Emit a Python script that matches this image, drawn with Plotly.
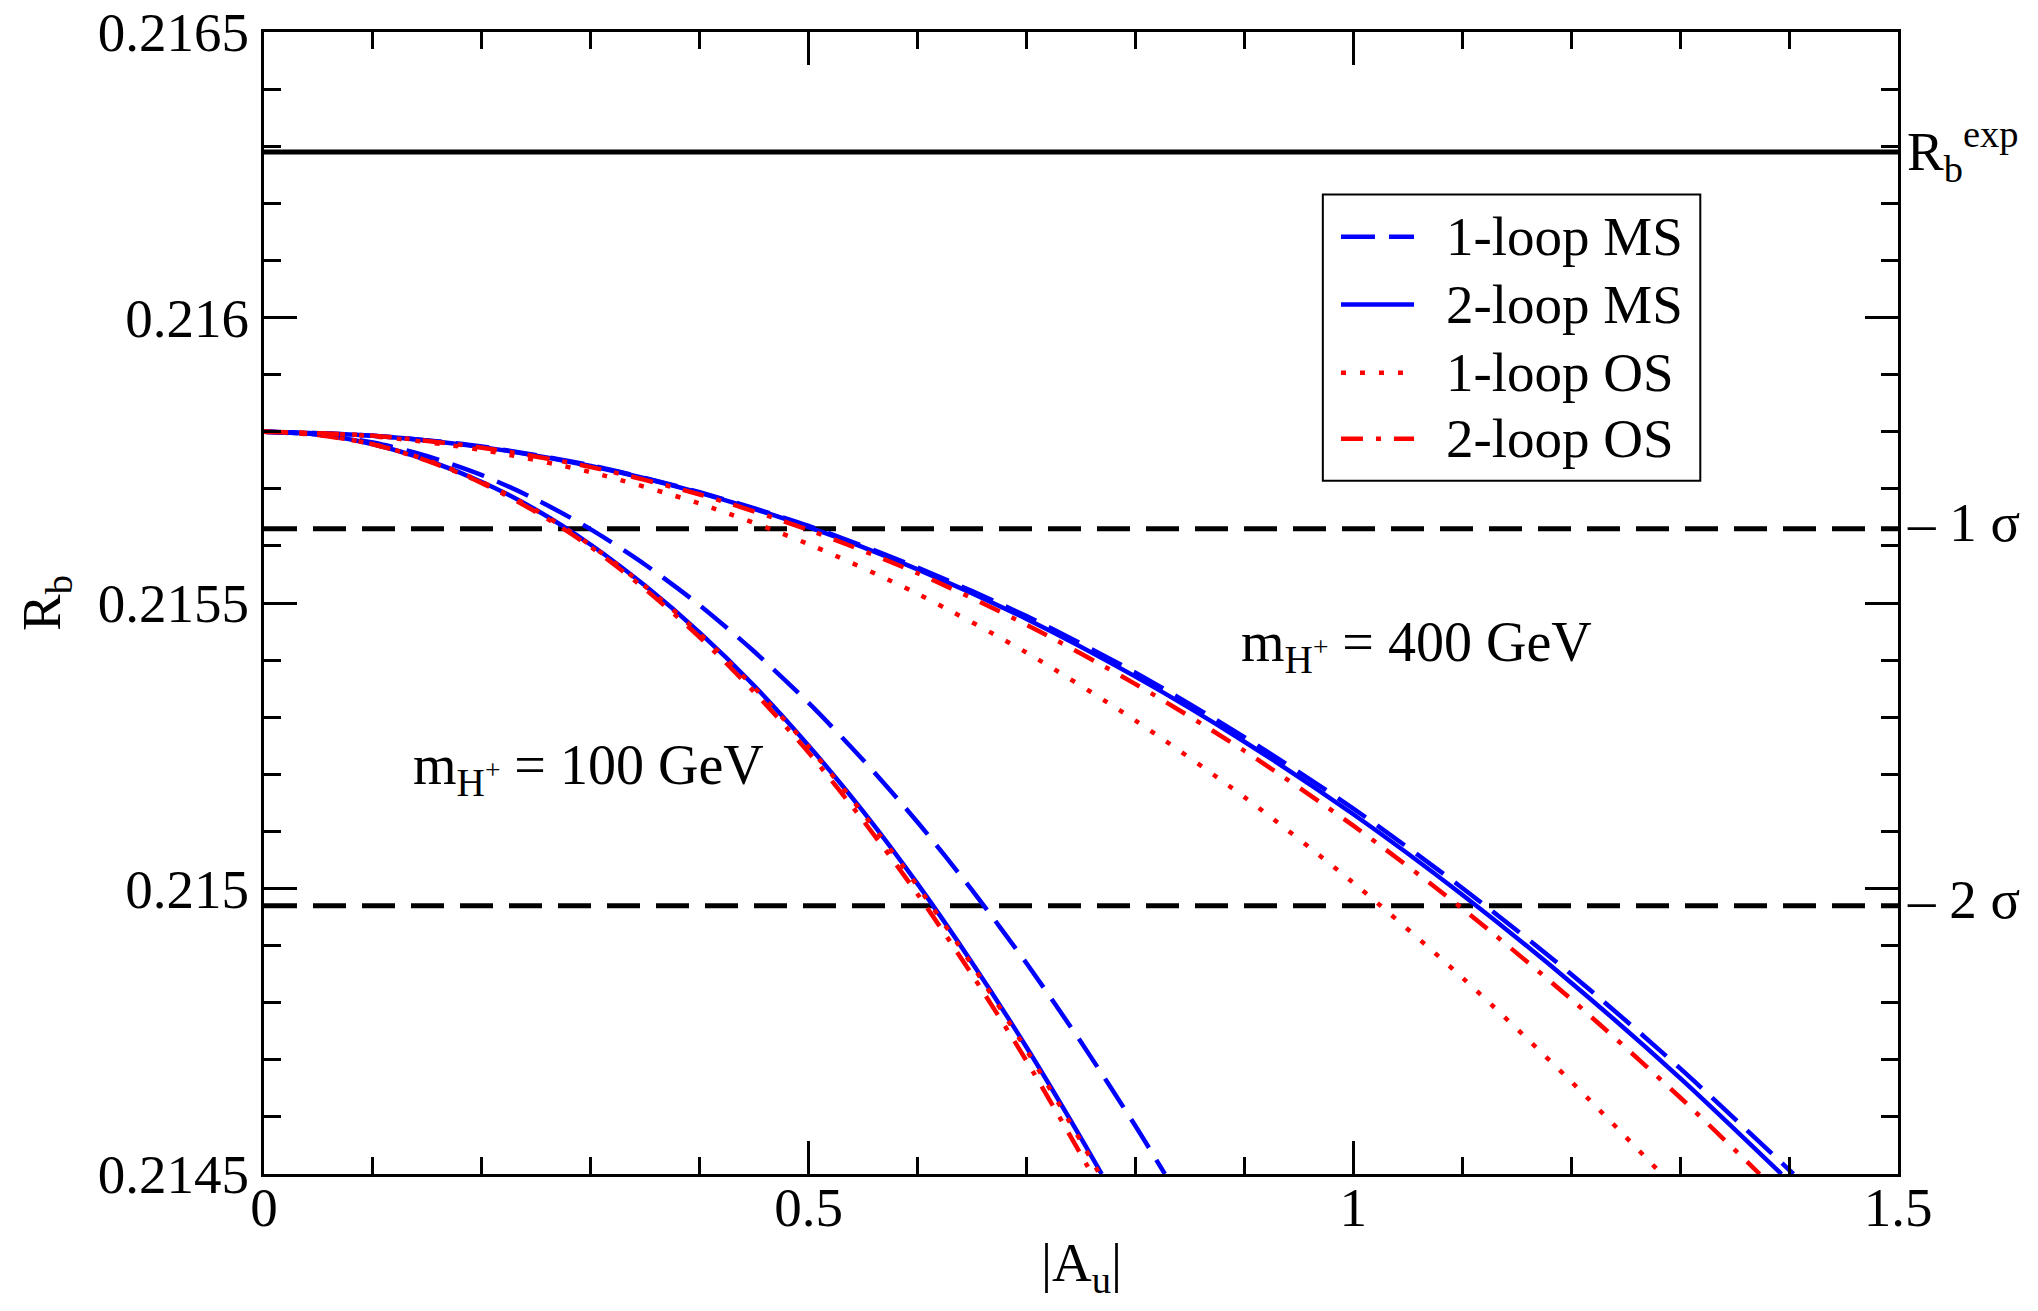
import plotly.graph_objects as go

FONT = "Liberation Serif, Times New Roman, Times, serif"

# ---------------- data ----------------
# m_H+ = 100 GeV
x_100_ms1 = [0, 0.05, 0.1, 0.15, 0.2, 0.25, 0.3, 0.35, 0.4, 0.45, 0.5, 0.55, 0.6, 0.65, 0.7, 0.75, 0.8, 0.827]
y_100_ms1 = [0.2158, 0.215795, 0.215781, 0.215757, 0.215724, 0.215681, 0.215629, 0.215567, 0.215496, 0.215415,
             0.215325, 0.215225, 0.215116, 0.214997, 0.214869, 0.214731, 0.214584, 0.2145]
x_100_ms2 = [0, 0.05, 0.1, 0.15, 0.2, 0.25, 0.3, 0.35, 0.4, 0.45, 0.5, 0.55, 0.6, 0.65, 0.7, 0.75, 0.769]
y_100_ms2 = [0.2158, 0.215795, 0.215778, 0.21575, 0.215712, 0.215663, 0.215602, 0.21553, 0.215448, 0.215355,
             0.21525, 0.215135, 0.215008, 0.21487, 0.214722, 0.214563, 0.2145]
x_100_os1 = [0, 0.05, 0.1, 0.15, 0.2, 0.25, 0.3, 0.35, 0.4, 0.45, 0.5, 0.55, 0.6, 0.65, 0.7, 0.75, 0.767]
y_100_os1 = [0.2158, 0.215794, 0.215778, 0.21575, 0.215712, 0.215662, 0.215601, 0.215529, 0.215446, 0.215352,
             0.215248, 0.215131, 0.215004, 0.214866, 0.214717, 0.214557, 0.2145]
x_100_os2 = [0, 0.05, 0.1, 0.15, 0.2, 0.25, 0.3, 0.35, 0.4, 0.45, 0.5, 0.55, 0.6, 0.65, 0.7, 0.75, 0.76]
y_100_os2 = [0.2158, 0.215794, 0.215778, 0.215749, 0.21571, 0.215659, 0.215598, 0.215524, 0.21544, 0.215344,
             0.215238, 0.215119, 0.21499, 0.214849, 0.214698, 0.214534, 0.2145]

# m_H+ = 400 GeV
x_400_ms1 = [0, 0.1, 0.2, 0.3, 0.4, 0.5, 0.6, 0.7, 0.8, 0.9, 1.0, 1.1, 1.2, 1.3, 1.404]
y_400_ms1 = [0.2158, 0.215793, 0.215774, 0.215741, 0.215694, 0.215635, 0.215562, 0.215477, 0.215378, 0.215265,
             0.21514, 0.215001, 0.21485, 0.214685, 0.2145]
x_400_ms2 = [0, 0.1, 0.2, 0.3, 0.4, 0.5, 0.6, 0.7, 0.8, 0.9, 1.0, 1.1, 1.2, 1.3, 1.393]
y_400_ms2 = [0.2158, 0.215793, 0.215773, 0.21574, 0.215693, 0.215633, 0.215559, 0.215472, 0.215371, 0.215257,
             0.21513, 0.214989, 0.214835, 0.214668, 0.2145]
x_400_os1 = [0, 0.1, 0.2, 0.3, 0.4, 0.5, 0.6, 0.7, 0.8, 0.9, 1.0, 1.1, 1.2, 1.283]
y_400_os1 = [0.2158, 0.215792, 0.215768, 0.215729, 0.215674, 0.215603, 0.215516, 0.215413, 0.215294, 0.21516,
             0.21501, 0.214844, 0.214662, 0.2145]
x_400_os2 = [0, 0.1, 0.2, 0.3, 0.4, 0.5, 0.6, 0.7, 0.8, 0.9, 1.0, 1.1, 1.2, 1.3, 1.373]
y_400_os2 = [0.2158, 0.215793, 0.215772, 0.215738, 0.21569, 0.215628, 0.215552, 0.215462, 0.215358, 0.215241,
             0.21511, 0.214965, 0.214806, 0.214634, 0.2145]

# experimental value and -1 sigma / -2 sigma
ref_labels = ["R<sub>b</sub><sup>exp</sup>", "\u2013 1 \u03c3", "\u2013 2 \u03c3"]
ref_values = [0.21629, 0.21563, 0.21497]
ref_x = [0, 1.5]

legend_labels = ["1-loop MS", "2-loop MS", "1-loop OS", "2-loop OS"]
mass_labels = ["m<sub>H<sup>+</sup></sub> = 100 GeV", "m<sub>H<sup>+</sup></sub> = 400 GeV"]
mass_label_pos = [(0.298, 0.21521), (1.058, 0.215425)]

x_tick_vals = [0, 0.5, 1, 1.5]
x_tick_text = ["0", "0.5", "1", "1.5"]
y_tick_vals = [0.2145, 0.215, 0.2155, 0.216, 0.2165]
y_tick_text = ["0.2145", "0.215", "0.2155", "0.216", "0.2165"]

# ---------------- styles ----------------
BLUE = "#0000ff"
RED = "#ff0000"
styles = [
    dict(color=BLUE, dash="34px,14px"),               # 1-loop MS
    dict(color=BLUE, dash="solid"),                   # 2-loop MS
    dict(color=RED, dash="5px,14px"),                 # 1-loop OS
    dict(color=RED, dash="22px,13px,5px,13px"),       # 2-loop OS
]
ref_styles = [dict(color="black", width=5, dash="solid"),
              dict(color="black", width=5, dash="33px,16px"),
              dict(color="black", width=5, dash="33px,16px")]

fig = go.Figure()

for v, st in zip(ref_values, ref_styles):
    fig.add_trace(go.Scatter(x=ref_x, y=[v, v], mode="lines", line=st,
                             showlegend=False, hoverinfo="skip"))

curves = [
    (x_100_ms1, y_100_ms1, 0), (x_100_ms2, y_100_ms2, 1), (x_100_os1, y_100_os1, 2), (x_100_os2, y_100_os2, 3),
    (x_400_ms1, y_400_ms1, 0), (x_400_ms2, y_400_ms2, 1), (x_400_os1, y_400_os1, 2), (x_400_os2, y_400_os2, 3),
]
for xs, ys, k in curves:
    st = styles[k]
    fig.add_trace(go.Scatter(x=xs, y=ys, mode="lines",
                             line=dict(color=st["color"], width=4.5, dash=st["dash"], shape="spline", smoothing=0.8),
                             showlegend=False, hoverinfo="skip"))

axis_common = dict(
    ticks="inside", ticklen=33, tickwidth=2.5, tickcolor="black",
    showline=True, linecolor="black", linewidth=3, mirror="allticks",
    showgrid=False, zeroline=False, ticklabeloverflow="allow", automargin=False,
    tickfont=dict(family=FONT, size=55, color="black"),
)
fig.update_xaxes(range=[0, 1.5], tickmode="array", tickvals=x_tick_vals, ticktext=x_tick_text,
                 minor=dict(tickmode="linear", tick0=0, dtick=0.1, ticks="inside", ticklen=17,
                            tickwidth=2.5, tickcolor="black", showgrid=False),
                 ticklabelstandoff=-17, **axis_common)
fig.update_yaxes(range=[0.2145, 0.2165], tickmode="array", tickvals=y_tick_vals, ticktext=y_tick_text,
                 minor=dict(tickmode="linear", tick0=0.2145, dtick=0.0001, ticks="inside", ticklen=17,
                            tickwidth=2.5, tickcolor="black", showgrid=False),
                 ticklabelstandoff=1, **axis_common)

annotations = []
# axis titles
annotations.append(dict(text="|A<sub>u</sub>|", xref="paper", yref="paper", x=0.5, y=-0.081,
                        xanchor="center", yanchor="middle", showarrow=False,
                        font=dict(family=FONT, size=55, color="black")))
annotations.append(dict(text="R<sub>b</sub>", xref="paper", yref="paper", x=-0.134, y=0.5,
                        xanchor="center", yanchor="middle", textangle=-90, showarrow=False,
                        font=dict(family=FONT, size=55, color="black")))
# right side labels
ref_yshift = [0, 6, 6]
for lab, v, ys in zip(ref_labels, ref_values, ref_yshift):
    annotations.append(dict(text=lab, xref="paper", yref="y", x=1.004, y=v, xanchor="left",
                            yanchor="middle", yshift=ys, showarrow=False,
                            font=dict(family=FONT, size=55, color="black")))
# mass labels
for lab, (mx, my) in zip(mass_labels, mass_label_pos):
    annotations.append(dict(text=lab, xref="x", yref="y", x=mx, y=my, xanchor="center",
                            yanchor="middle", showarrow=False,
                            font=dict(family=FONT, size=56, color="black")))

# legend (drawn manually so that the dash patterns are visible)
leg_x0, leg_x1, leg_y0, leg_y1 = 0.648, 0.879, 0.607, 0.8577
leg_rows = [0.8208, 0.7613, 0.7017, 0.6439]
shapes = [dict(type="rect", xref="paper", yref="paper", x0=leg_x0, x1=leg_x1, y0=leg_y0, y1=leg_y1,
               line=dict(color="black", width=2), fillcolor="white", layer="above")]
for lab, st, ry in zip(legend_labels, styles, leg_rows):
    shapes.append(dict(type="line", xref="paper", yref="paper", x0=0.6591, x1=0.7038, y0=ry, y1=ry,
                       line=dict(color=st["color"], width=4.5, dash=st["dash"]), layer="above"))
    annotations.append(dict(text=lab, xref="paper", yref="paper", x=0.7222, y=ry, xanchor="left",
                            yanchor="middle", showarrow=False,
                            font=dict(family=FONT, size=55, color="black")))

# the page body keeps its 8px margin, so the figure is 16px smaller than the window
fig.update_layout(
    width=2022, height=1295,
    margin=dict(l=256, r=132, t=24, b=129, autoexpand=False),
    plot_bgcolor="white", paper_bgcolor="white",
    font=dict(family=FONT, size=55, color="black"),
    showlegend=False,
    annotations=annotations,
    shapes=shapes,
)

fig.write_html("out.html", config={"displayModeBar": False})
